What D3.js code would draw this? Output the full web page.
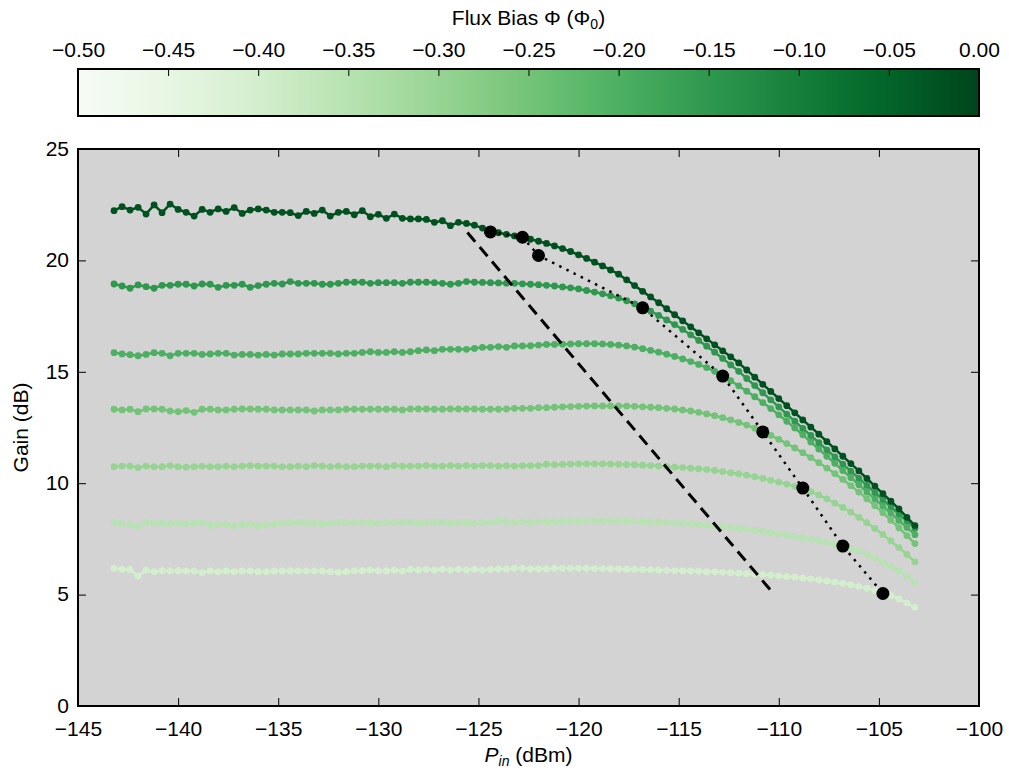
<!DOCTYPE html>
<html><head><meta charset="utf-8">
<script src="https://cdn.jsdelivr.net/npm/d3@7"></script>
<style>
html,body{margin:0;padding:0;background:#fff;}
svg text{font-family:"Liberation Sans Narrow","Liberation Sans",Arial,sans-serif;fill:#000;}
</style></head><body>
<svg id="chart" width="1009" height="772"></svg>
<script>
// ---------------- data ----------------
const pin = [-143.2,-142.8,-142.4,-142.0,-141.6,-141.2,-140.8,-140.4,-140.0,-139.6,
-139.2,-138.8,-138.4,-138.0,-137.6,-137.2,-136.8,-136.4,-136.0,-135.6,
-135.2,-134.8,-134.4,-134.0,-133.6,-133.2,-132.8,-132.4,-132.0,-131.6,
-131.2,-130.8,-130.4,-130.0,-129.6,-129.2,-128.8,-128.4,-128.0,-127.6,
-127.2,-126.8,-126.4,-126.0,-125.6,-125.2,-124.8,-124.4,-124.0,-123.6,
-123.2,-122.8,-122.4,-122.0,-121.6,-121.2,-120.8,-120.4,-120.0,-119.6,
-119.2,-118.8,-118.4,-118.0,-117.6,-117.2,-116.8,-116.4,-116.0,-115.6,
-115.2,-114.8,-114.4,-114.0,-113.6,-113.2,-112.8,-112.4,-112.0,-111.6,
-111.2,-110.8,-110.4,-110.0,-109.6,-109.2,-108.8,-108.4,-108.0,-107.6,
-107.2,-106.8,-106.4,-106.0,-105.6,-105.2,-104.8,-104.4,-104.0,-103.6,-103.2];

// gain (dB) for each flux bias, darkest first
const gainFlux0 = [22.23,22.41,22.26,22.38,22.08,22.49,22.14,22.53,22.29,22.16,
21.99,22.29,22.16,22.31,22.20,22.37,22.11,22.26,22.31,22.26,
22.16,22.16,22.14,22.01,22.20,22.11,22.26,21.99,22.16,22.20,
22.05,22.23,21.96,22.07,21.89,22.08,21.89,21.86,21.86,21.84,
21.71,21.78,21.56,21.71,21.66,
21.58,21.45,21.33,21.24,21.17,21.10,21.03,20.95,20.86,20.76,20.65,20.53,20.40,20.25,20.09,19.92,19.75,19.57,
19.38,19.13,18.87,18.61,18.36,18.10,17.83,17.56,17.29,17.02,16.75,16.48,16.21,15.94,15.67,15.40,15.08,14.76,14.44,14.12,
13.80,13.48,13.16,12.84,12.52,12.20,11.87,11.54,11.21,10.88,10.55,10.21,9.87,9.53,9.19,8.85,8.47,8.10];

const gainFlux1 = [18.94,18.85,18.75,18.90,18.82,18.75,18.88,18.88,18.93,18.93,
18.85,18.94,18.93,18.79,18.88,18.88,18.93,18.79,18.87,18.93,
18.97,18.94,19.05,18.97,18.97,18.97,18.93,18.93,18.97,19.02,
19.02,19.02,18.97,19.00,19.00,19.00,18.97,19.02,19.02,19.02,
19.00,18.97,18.93,18.97,19.05,
19.02,19.01,19.00,18.99,18.98,18.97,18.95,18.93,18.91,18.88,18.85,18.81,18.77,18.72,18.65,18.58,18.50,18.41,18.31,
18.19,18.05,17.89,17.72,17.53,17.33,17.12,16.90,16.66,16.41,16.15,15.88,15.60,15.31,
15.02,14.70,14.38,14.06,13.74,13.42,13.10,12.78,12.46,12.14,11.82,11.50,11.18,10.86,10.54,10.22,9.90,9.58,9.26,8.94,8.62,8.30,7.98];

const gainFlux2 = [15.86,15.80,15.77,15.72,15.78,15.86,15.83,15.72,15.83,15.83,
15.83,15.78,15.80,15.83,15.83,15.75,15.78,15.78,15.75,15.78,
15.75,15.80,15.80,15.80,15.83,15.83,15.83,15.83,15.80,15.83,
15.83,15.87,15.90,15.87,15.87,15.90,15.87,15.90,15.95,15.98,
15.95,16.01,16.01,16.01,16.01,16.05,16.10,16.10,16.13,16.10,
16.16,16.16,16.17,16.20,16.23,16.23,
16.24,16.25,16.26,16.26,16.26,16.25,16.23,16.20,16.16,16.11,16.04,15.96,
15.88,15.79,15.69,15.58,15.46,15.33,15.19,15.02,
14.82,14.60,14.37,14.13,13.88,13.62,13.35,13.07,12.78,12.48,12.17,11.85,11.53,11.21,10.89,10.57,10.25,9.93,9.61,9.29,8.97,8.65,8.33,8.01,7.69];

const gainFlux3 = [13.32,13.29,13.32,13.21,13.33,13.33,13.32,13.24,13.21,13.26,
13.18,13.32,13.32,13.29,13.29,13.32,13.33,13.33,13.32,13.32,
13.29,13.29,13.29,13.29,13.29,13.24,13.29,13.29,13.29,13.32,
13.32,13.32,13.32,13.32,13.32,13.32,13.29,13.33,13.33,13.33,
13.32,13.32,13.33,13.33,13.33,13.33,13.32,13.32,13.32,13.33,
13.36,13.36,13.36,13.39,13.39,13.41,
13.43,13.44,13.45,13.46,13.47,13.47,13.47,13.47,13.46,13.45,13.43,13.41,13.39,13.36,13.33,13.29,13.24,13.18,13.11,13.03,12.94,12.84,12.73,12.61,12.47,
12.32,12.15,11.97,11.78,11.58,11.37,11.15,10.92,10.68,10.43,10.17,9.89,9.60,9.30,8.99,8.67,8.34,8.00,7.65,7.29];

const gainFlux4 = [10.74,10.77,10.77,10.70,10.77,10.74,10.74,10.79,10.74,10.72,
10.74,10.77,10.74,10.74,10.77,10.74,10.77,10.79,10.77,10.77,
10.77,10.74,10.74,10.77,10.74,10.79,10.77,10.74,10.77,10.74,
10.74,10.77,10.77,10.77,10.74,10.79,10.77,10.77,10.77,10.79,
10.77,10.77,10.79,10.77,10.79,10.77,10.79,10.79,10.77,10.79,
10.77,10.79,10.79,10.79,10.85,10.83,
10.85,10.86,10.87,10.87,10.87,10.87,10.86,10.85,10.84,10.83,10.81,10.79,10.77,10.75,10.72,10.70,10.67,
10.64,10.61,10.57,10.52,10.47,10.42,10.36,10.29,10.21,10.13,10.05,9.96,9.86,9.76,
9.62,9.47,9.30,9.11,8.91,8.70,8.47,8.23,7.97,7.70,7.41,7.11,6.80,6.47];

const gainFlux5 = [8.23,8.17,8.15,8.05,8.23,8.20,8.20,8.17,8.20,8.17,
8.20,8.23,8.12,8.15,8.15,8.08,8.15,8.15,8.09,8.12,
8.17,8.20,8.23,8.23,8.20,8.20,8.17,8.20,8.23,8.23,
8.23,8.23,8.23,8.20,8.23,8.23,8.23,8.23,8.20,8.23,
8.23,8.23,8.20,8.23,8.23,8.20,8.23,8.24,8.32,8.27,
8.24,8.27,8.23,8.27,8.27,8.27,
8.28,8.29,8.30,8.30,8.31,8.31,8.31,8.30,8.30,8.29,8.28,8.27,8.25,8.23,8.21,8.19,8.17,8.14,8.11,8.08,8.05,
8.01,7.97,7.93,7.88,7.83,7.78,7.73,7.67,7.61,7.55,7.48,7.41,7.33,7.25,7.17,
7.07,6.95,6.81,6.65,6.47,6.27,6.05,5.81,5.55];

const gainFlux6 = [6.18,6.13,6.13,5.83,6.10,6.03,6.07,6.06,6.07,6.06,
6.06,5.98,6.06,6.03,6.06,6.03,6.06,6.06,6.03,6.03,
6.06,6.06,6.07,6.06,6.06,6.06,6.06,6.03,6.00,6.03,
6.07,6.07,6.10,6.07,6.06,6.10,6.06,6.13,6.10,6.13,
6.10,6.13,6.10,6.13,6.10,6.13,6.10,6.13,6.15,6.15,
6.18,6.18,6.15,6.15,6.15,6.18,
6.18,6.18,6.18,6.18,6.17,6.17,6.16,6.15,6.14,6.13,6.12,6.11,6.10,6.09,6.08,6.07,6.06,6.05,6.03,
6.02,6.00,5.98,5.96,5.94,5.92,5.90,5.87,5.84,5.81,5.78,5.74,5.70,5.66,5.61,5.56,5.50,5.44,
5.37,5.29,5.20,5.09,4.96,4.81,4.63,4.43];

const fluxBias = [-0.02,-0.15,-0.20,-0.25,-0.30,-0.35,-0.40];
const gainSeries = [gainFlux0,gainFlux1,gainFlux2,gainFlux3,gainFlux4,gainFlux5,gainFlux6];

// 1 dB compression points
const compPin  = [-124.4,-122.8,-122.0,-116.8,-112.8,-110.8,-108.8,-106.8,-104.8];
const compGain = [21.28,21.04,20.22,17.87,14.81,12.30,9.78,7.18,5.05];

// dashed reference line
const dashPin  = [-125.55,-110.27];
const dashGain = [21.25,5.05];

const xTicks = [-145,-140,-135,-130,-125,-120,-115,-110,-105,-100];
const yTicks = [0,5,10,15,20,25];
const cbTicks = [-0.50,-0.45,-0.40,-0.35,-0.30,-0.25,-0.20,-0.15,-0.10,-0.05,0.00];

// ---------------- drawing ----------------
const svg = d3.select("#chart");
const L=78, R=979, T=149, B=706;
const cbT=69, cbB=116;
const FS=21;

const x = d3.scaleLinear().domain([-145,-100]).range([L,R]);
const y = d3.scaleLinear().domain([0,25]).range([B,T]);
const cb = d3.scaleLinear().domain([-0.5,0]).range([L,R]);
const color = d => d3.interpolateGreens((d+0.5)/0.5);

// colorbar
const defs = svg.append("defs");
const grad = defs.append("linearGradient").attr("id","cbgrad").attr("x1","0%").attr("x2","100%").attr("y1","0%").attr("y2","0%");
d3.range(0,1.0001,0.02).forEach(t=>{
  grad.append("stop").attr("offset",(t*100)+"%").attr("stop-color",d3.interpolateGreens(t));
});
svg.append("rect").attr("x",L).attr("y",cbT).attr("width",R-L).attr("height",cbB-cbT)
  .attr("fill","url(#cbgrad)");
const cbAxis = d3.axisTop(cb).tickValues(cbTicks).tickFormat(d3.format(".2f"))
  .tickSizeInner(-7).tickSizeOuter(0).tickPadding(12);
const gcb = svg.append("g").attr("transform",`translate(0,${cbT})`).call(cbAxis);
gcb.select(".domain").remove();
gcb.selectAll("text").attr("font-size",FS).attr("font-family",null);
gcb.selectAll("line").attr("stroke","#000").attr("stroke-width",1);
svg.append("rect").attr("x",L).attr("y",cbT).attr("width",R-L).attr("height",cbB-cbT)
  .attr("fill","none").attr("stroke","#000").attr("stroke-width",2);
const title = svg.append("text").attr("x",(L+R)/2).attr("y",25).attr("text-anchor","middle").attr("font-size",FS);
title.append("tspan").text("Flux Bias \u03A6 (\u03A6");
title.append("tspan").attr("font-size",14).attr("dy",4).text("0");
title.append("tspan").attr("dy",-4).text(")");

// plot background
svg.append("rect").attr("x",L).attr("y",T).attr("width",R-L).attr("height",B-T).attr("fill","#d3d3d3");

// clip
defs.append("clipPath").attr("id","clip").append("rect").attr("x",L).attr("y",T).attr("width",R-L).attr("height",B-T);
const plot = svg.append("g").attr("clip-path","url(#clip)");

const line = d3.line().x(d=>x(d[0])).y(d=>y(d[1]));
for (let k=gainSeries.length-1;k>=0;k--){
  const g = gainSeries[k];
  const n = Math.min(g.length,pin.length);
  const pts = d3.range(n).map(i=>[pin[i],g[i]]);
  const c = color(fluxBias[k]);
  plot.append("path").attr("d",line(pts)).attr("fill","none").attr("stroke",c).attr("stroke-width",2.5);
  plot.selectAll(null).data(pts).enter().append("circle")
    .attr("cx",d=>x(d[0])).attr("cy",d=>y(d[1])).attr("r",3.4).attr("fill",c);
}

// dashed line
const dashPts = dashPin.map((p,i)=>[p,dashGain[i]]);
plot.append("path").attr("d",line(dashPts)).attr("fill","none").attr("stroke","#000")
  .attr("stroke-width",3).attr("stroke-dasharray","12,7");

// dotted compression line + points
const compPts = compPin.map((p,i)=>[p,compGain[i]]);
plot.append("path").attr("d",line(compPts)).attr("fill","none").attr("stroke","#000")
  .attr("stroke-width",2.5).attr("stroke-dasharray","2.5,5.5");
plot.selectAll(null).data(compPts).enter().append("circle")
  .attr("cx",d=>x(d[0])).attr("cy",d=>y(d[1])).attr("r",6.5).attr("fill","#000");

// axes
function styleAxis(g){
  g.select(".domain").remove();
  g.selectAll("line").attr("stroke","#000").attr("stroke-width",1);
  g.selectAll("text").attr("font-size",FS).attr("font-family",null);
}
svg.append("g").attr("transform",`translate(0,${B})`)
  .call(d3.axisBottom(x).tickValues(xTicks).tickSizeInner(-8).tickSizeOuter(0).tickPadding(15)).call(styleAxis);
svg.append("g").attr("transform",`translate(0,${T})`)
  .call(d3.axisTop(x).tickValues(xTicks).tickSizeInner(-8).tickSizeOuter(0).tickFormat("")).call(styleAxis);
const gy = svg.append("g").attr("transform",`translate(${L},0)`)
  .call(d3.axisLeft(y).tickValues(yTicks).tickSizeInner(-8).tickSizeOuter(0).tickPadding(9)).call(styleAxis);
gy.selectAll("text").attr("dy","0.3em");
svg.append("g").attr("transform",`translate(${R},0)`)
  .call(d3.axisRight(y).tickValues(yTicks).tickSizeInner(-8).tickSizeOuter(0).tickFormat("")).call(styleAxis);

// frame
svg.append("rect").attr("x",L).attr("y",T).attr("width",R-L).attr("height",B-T)
  .attr("fill","none").attr("stroke","#000").attr("stroke-width",2);

// axis labels
const xl = svg.append("text").attr("x",(L+R)/2).attr("y",762).attr("text-anchor","middle").attr("font-size",FS);
xl.append("tspan").attr("font-style","italic").text("P");
xl.append("tspan").attr("font-style","italic").attr("font-size",14).attr("dy",4).text("in");
xl.append("tspan").attr("dy",-4).text(" (dBm)");
svg.append("text").attr("transform",`translate(28,${(T+B)/2}) rotate(-90)`).attr("text-anchor","middle")
  .attr("font-size",FS).text("Gain (dB)");
</script>
</body></html>
